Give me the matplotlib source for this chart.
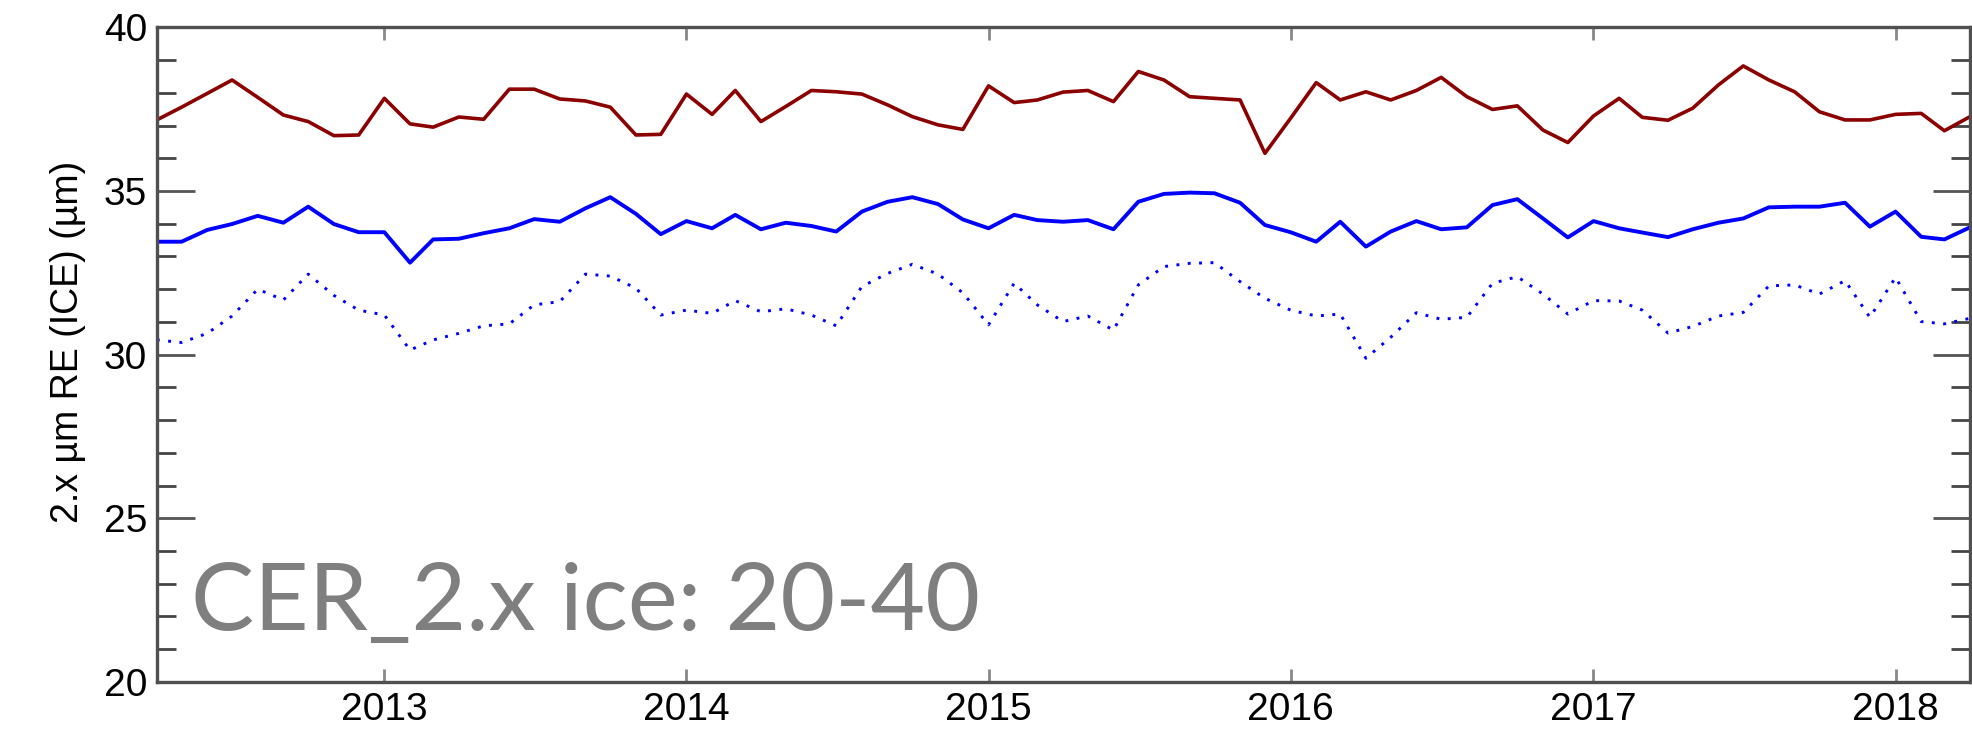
import pandas as pd
import numpy as np
import matplotlib
matplotlib.use("Agg")
import matplotlib.pyplot as plt
from matplotlib.ticker import MultipleLocator

# Monthly means, Apr 2012 - Apr 2018
months = pd.date_range("2012-04-01", "2018-04-01", freq="MS")

re_red = [
    37.17, 37.56, 37.98, 38.39, 37.86, 37.32, 37.12, 36.69, 36.71, 37.83,
    37.05, 36.95, 37.26, 37.19, 38.11, 38.11, 37.81, 37.75, 37.56, 36.71,
    36.73, 37.96, 37.34, 38.07, 37.12, 37.58, 38.07, 38.03, 37.96, 37.63,
    37.27, 37.02, 36.88, 38.21, 37.70, 37.78, 38.02, 38.07, 37.73, 38.65,
    38.39, 37.88, 37.83, 37.78, 36.15, 37.22, 38.31, 37.78, 38.03, 37.78,
    38.07, 38.47, 37.88, 37.49, 37.60, 36.86, 36.48, 37.29, 37.83, 37.25,
    37.16, 37.53, 38.24, 38.82, 38.39, 38.03, 37.42, 37.17, 37.17, 37.34,
    37.37, 36.84, 37.27,
]

re_blue = [
    33.45, 33.45, 33.81, 33.99, 34.24, 34.03, 34.52, 33.99, 33.74, 33.74,
    32.81, 33.52, 33.54, 33.71, 33.86, 34.14, 34.06, 34.47, 34.81, 34.30,
    33.68, 34.08, 33.86, 34.27, 33.83, 34.03, 33.93, 33.76, 34.37, 34.67,
    34.81, 34.60, 34.13, 33.86, 34.27, 34.11, 34.06, 34.11, 33.83, 34.67,
    34.91, 34.95, 34.93, 34.64, 33.96, 33.74, 33.45, 34.06, 33.30, 33.76,
    34.08, 33.83, 33.89, 34.57, 34.75, 34.16, 33.58, 34.08, 33.86, 33.73,
    33.59, 33.83, 34.03, 34.16, 34.50, 34.52, 34.52, 34.64, 33.91, 34.37,
    33.60, 33.52, 33.89,
]

re_blue_dot = [
    30.45, 30.37, 30.65, 31.18, 32.00, 31.67, 32.46, 31.81, 31.36, 31.21,
    30.14, 30.45, 30.65, 30.88, 30.94, 31.52, 31.62, 32.46, 32.40, 32.03,
    31.21, 31.36, 31.26, 31.65, 31.31, 31.40, 31.21, 30.88, 32.08, 32.48,
    32.76, 32.46, 31.89, 30.91, 32.18, 31.52, 31.01, 31.18, 30.75, 32.13,
    32.69, 32.79, 32.81, 32.23, 31.72, 31.36, 31.18, 31.24, 29.89, 30.53,
    31.28, 31.08, 31.14, 32.18, 32.38, 31.85, 31.24, 31.65, 31.64, 31.36,
    30.66, 30.86, 31.18, 31.29, 32.10, 32.13, 31.85, 32.26, 31.14, 32.36,
    31.01, 30.94, 31.11,
]

year_ticks = ["2013", "2014", "2015", "2016", "2017", "2018"]
y_min, y_max = 20, 40


def plot_re_ice():
    plt.rcParams['font.family'] = ['Liberation Sans', 'DejaVu Sans']

    fig = plt.figure(figsize=(19.72, 7.30), dpi=100)
    ax = fig.add_axes([0.0795, 0.0658, 0.9195, 0.8968])

    ax.plot(months, re_red, color='#8b0000', lw=2.6)
    ax.plot(months, re_blue, color='#0000ff', lw=2.8)
    ax.plot(months, re_blue_dot, color='#0000ff', lw=2.1,
            linestyle=(0, (1, 2.9)))

    ax.set_xlim(months[0], months[-1])
    ax.set_ylim(y_min, y_max)

    ax.set_xticks([pd.Timestamp(y + "-01-01") for y in year_ticks])
    ax.set_xticklabels(year_ticks)
    ax.yaxis.set_major_locator(MultipleLocator(5))
    ax.yaxis.set_minor_locator(MultipleLocator(1))

    ax.tick_params(axis='y', which='major', direction='in', length=27,
                   width=2, color='#555555', left=True, right=True,
                   labelsize=28, pad=7)
    ax.tick_params(axis='y', which='minor', direction='in', length=13.5,
                   width=2, color='#444444', left=True, right=True)
    ax.tick_params(axis='x', which='major', direction='in', length=9.5,
                   width=2, color='#888888', top=True, bottom=True,
                   labelsize=28, pad=7)

    for sp in ax.spines.values():
        sp.set_linewidth(2.4)
        sp.set_color('#505050')

    # y-axis title placed by hand, left of the tick labels
    fig.text(68 / 1972, 1 - 342 / 730, '2.x \u00b5m RE (ICE) (\u00b5m)',
             fontsize=27, rotation=90, ha='center', va='center')

    fig.text(191 / 1972, 1 - 630 / 730, 'CER_2.x ice: 20-40',
             family=['Lato', 'DejaVu Sans'], fontsize=68, color='#7f7f7f',
             ha='left', va='baseline')

    fig.savefig('out.png', dpi=100)


if __name__ == "__main__":
    plot_re_ice()
